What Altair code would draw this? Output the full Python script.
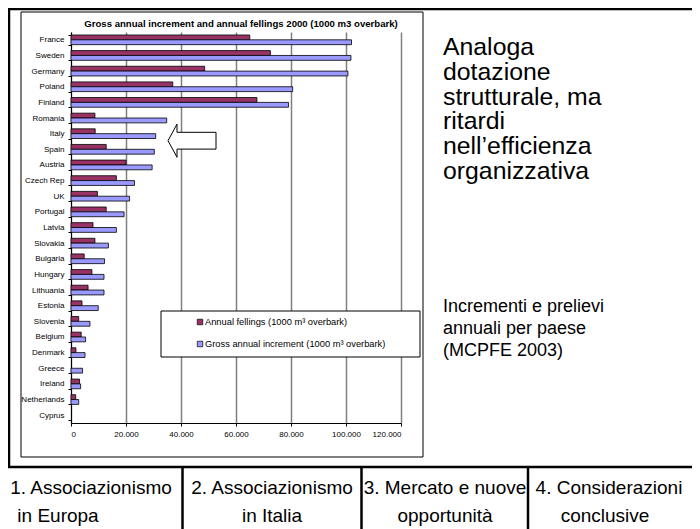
import altair as alt
import pandas as pd

FONT = "Liberation Sans"

countries = ["France", "Sweden", "Germany", "Poland", "Finland", "Romania", "Italy",
             "Spain", "Austria", "Czech Rep", "UK", "Portugal", "Latvia", "Slovakia",
             "Bulgaria", "Hungary", "Lithuania", "Estonia", "Slovenia", "Belgium",
             "Denmark", "Greece", "Ireland", "Netherlands", "Cyprus"]
fellings = [65000, 72500, 48600, 37000, 67600, 8700, 8800, 12800, 20000, 16500, 9600,
            12800, 8000, 8700, 4800, 7600, 6200, 4000, 2800, 3700, 1800, 0, 3100, 1700, 0]
gross = [102000, 101800, 100700, 80600, 79100, 34800, 30800, 30300, 29500, 23100, 21300,
         19300, 16500, 13600, 12200, 12000, 12000, 9900, 6900, 5300, 5100, 4200, 3500, 2800, 0]
series_names = ["Annual fellings (1000 m³ overbark)", "Gross annual increment (1000 m³ overbark)"]
series_colors = ["#993366", "#9999FF"]
x_ticks = [0, 20000, 40000, 60000, 80000, 100000, 120000]
chart_title = "Gross annual increment and annual fellings 2000 (1000 m3 overbark)"
side_text_big = ["Analoga", "dotazione", "strutturale, ma", "ritardi", "nell\u2019efficienza", "organizzativa"]
side_text_small = ["Incrementi e prelievi", "annuali per paese", "(MCPFE 2003)"]
table_row1 = ["1.  Associazionismo", "2. Associazionismo", "3. Mercato e nuove", "4. Considerazioni"]
table_row2 = ["in Europa", "in Italia", "opportunità", "conclusive"]

rows = []
for c, f, g in zip(countries, fellings, gross):
    rows.append({"country": c, "series": series_names[0], "value": f})
    rows.append({"country": c, "series": series_names[1], "value": g})
df = pd.DataFrame(rows)

fill_scale = alt.Scale(domain=series_names, range=series_colors)

bars = alt.Chart(df).transform_filter("datum.value > 0").mark_bar(
    stroke="black", strokeWidth=0.8
).encode(
    y=alt.Y("country:N", sort=countries,
            scale=alt.Scale(domain=countries, paddingInner=0.38, paddingOuter=0.19),
            axis=alt.Axis(title=None, labelFont=FONT, labelFontSize=8, labelColor="black",
                          domainColor="black", tickColor="black", tickSize=3,
                          tickBand="extent", labelPadding=4, grid=False)),
    yOffset=alt.YOffset("series:N", sort=series_names,
                        scale=alt.Scale(domain=series_names, paddingInner=0, paddingOuter=0)),
    x=alt.X("value:Q", scale=alt.Scale(domain=[0, 120000], nice=False),
            axis=alt.Axis(title=None, values=x_ticks,
                          labelExpr="replace(format(datum.value, ','), ',', '.')",
                          labelFont=FONT, labelFontSize=8, labelColor="black",
                          domainColor="black", tickColor="black", tickSize=3,
                          labelPadding=4, grid=True, gridColor="#808080", gridWidth=1.5)),
    fill=alt.Fill("series:N", scale=fill_scale, legend=None),
)

dummy = alt.Data(values=[{"k": 1}])
layers = [bars]

def hline(x1, x2, y, w, color="black"):
    return alt.Chart(dummy).mark_rule(color=color, strokeWidth=w).encode(
        x=alt.value(x1), x2=alt.value(x2), y=alt.value(y))

def vline(x, y1, y2, w, color="black"):
    return alt.Chart(dummy).mark_rule(color=color, strokeWidth=w).encode(
        x=alt.value(x), y=alt.value(y1), y2=alt.value(y2))

# chart frame
layers.append(alt.Chart(dummy).mark_rect(fillOpacity=0, stroke="black", strokeWidth=1).encode(
    x=alt.value(-50), x2=alt.value(352), y=alt.value(-20), y2=alt.value(425)))

# title
layers.append(alt.Chart(dummy).mark_text(font=FONT, fontSize=9.6, fontWeight="bold",
                                         align="center", baseline="middle").encode(
    x=alt.value(170), y=alt.value(-8), text=alt.value(chart_title)))

# legend box
layers.append(alt.Chart(dummy).mark_rect(fill="white", stroke="black", strokeWidth=1).encode(
    x=alt.value(90), x2=alt.value(349), y=alt.value(279), y2=alt.value(325)))
for name, py in zip(series_names, [290, 312]):
    sub = alt.Chart(pd.DataFrame({"series": [name]}))
    layers.append(sub.mark_square(size=30, stroke="black", strokeWidth=0.7, opacity=1).encode(
        x=alt.value(129), y=alt.value(py),
        fill=alt.Fill("series:N", scale=fill_scale, legend=None)))
    layers.append(sub.mark_text(font=FONT, fontSize=9.3, align="left", baseline="middle").encode(
        x=alt.value(134), y=alt.value(py), text="series:N"))

# arrow
arrow_path = "M -1 0 L -0.625 -0.69 L -0.625 -0.35 L 1 -0.35 L 1 0.35 L -0.625 0.35 L -0.625 0.69 Z"
layers.append(alt.Chart(dummy).mark_point(shape=arrow_path, size=2304, filled=True, fill="white",
                                          stroke="black", strokeWidth=1, opacity=1).encode(
    x=alt.value(121), y=alt.value(108.7)))

# slide borders
TABLE_Y = 435
layers.append(hline(-63, 629, -23, 2.5))
layers.append(vline(-62, -23, TABLE_Y, 2.5))
layers.append(hline(-63, 629, TABLE_Y, 2.5))
for xd in [111.5, 290.5, 457]:
    layers.append(vline(xd, TABLE_Y, 500, 2.5))

# right side text
layers.append(alt.Chart(dummy).mark_text(font=FONT, fontSize=24.8, lineHeight=24.8, align="left",
                                         baseline="alphabetic").encode(
    x=alt.value(372), y=alt.value(23), text=alt.value(side_text_big)))
layers.append(alt.Chart(dummy).mark_text(font=FONT, fontSize=18, lineHeight=22, align="left",
                                         baseline="alphabetic").encode(
    x=alt.value(372), y=alt.value(280), text=alt.value(side_text_small)))

# bottom table
cell_centers1 = [20, 201, 374, 538]
cell_centers2 = [-13, 201, 374, 534]
for t, cx in zip(table_row1, cell_centers1):
    layers.append(alt.Chart(dummy).mark_text(font=FONT, fontSize=19, align="center",
                                             baseline="middle").encode(
        x=alt.value(cx), y=alt.value(456), text=alt.value(t)))
for t, cx in zip(table_row2, cell_centers2):
    layers.append(alt.Chart(dummy).mark_text(font=FONT, fontSize=19, align="center",
                                             baseline="middle").encode(
        x=alt.value(cx), y=alt.value(484), text=alt.value(t)))

chart = alt.layer(*layers).properties(
    width=330, height=391,
    autosize=alt.AutoSizeParams(type="none"),
    padding={"left": 63, "top": 24, "right": 291, "bottom": 106},
).configure_view(strokeWidth=0)

chart.save("out.html", embed_options={"renderer": "svg", "actions": False})
